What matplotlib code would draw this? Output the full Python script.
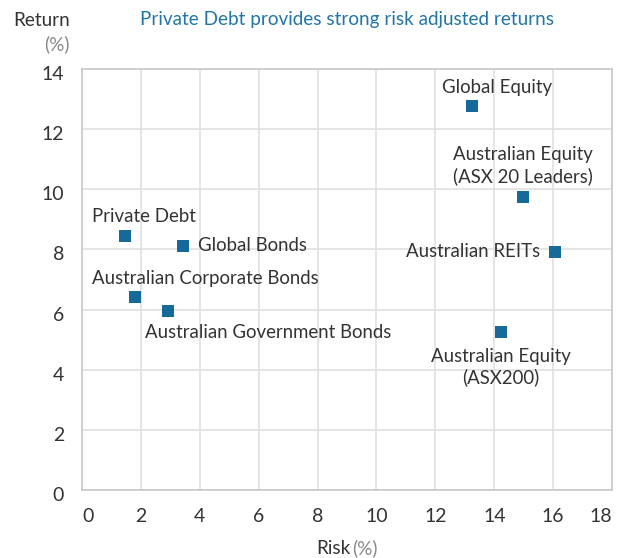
import matplotlib
matplotlib.use("Agg")
import matplotlib.pyplot as plt
import matplotlib.transforms as mtransforms

plt.rcParams['font.family'] = ['Lato', 'DejaVu Sans']

# data
names = ["Private Debt", "Global Bonds", "Australian Corporate Bonds",
         "Australian Government Bonds", "Global Equity",
         "Australian Equity\n(ASX 20 Leaders)", "Australian REITs",
         "Australian Equity\n(ASX200)"]
risk = [1.47, 3.44, 1.81, 2.92, 13.24, 14.98, 16.08, 14.23]
ret = [8.43, 8.12, 6.43, 5.96, 12.78, 9.73, 7.92, 5.26]

x_ticks = [0, 2, 4, 6, 8, 10, 12, 14, 16, 18]
y_ticks = [0, 2, 4, 6, 8, 10, 12, 14]

# label offsets (pixels) and alignment for each point
offsets = [(-33, 20, 'left'), (15, 0, 'left'), (-43, 18, 'left'),
           (-23, -22, 'left'), (25, 18, 'center'), (0, 32, 'center'),
           (-15, 0, 'right'), (0, -35, 'center')]

MARK = '#166a99'
TXT = '#333333'
FS = 13.4

fig = plt.figure(figsize=(6.2, 5.58), dpi=100)
ax = fig.add_axes([82 / 620, 1 - 490 / 558, 530 / 620, 421 / 558])

ax.scatter(risk, ret, marker='s', s=75, color=MARK, zorder=3, linewidths=0)

for n, x, y, (dx, dy, ha) in zip(names, risk, ret, offsets):
    ax.annotate(n, (x, y), xytext=(dx, dy), textcoords='offset pixels',
                ha=ha, va='center', fontsize=FS, color=TXT,
                linespacing=1.25)

ax.set_xlim(0, 18)
ax.set_ylim(0, 14)
ax.set_xticks(x_ticks)
ax.set_yticks(y_ticks)
ax.grid(True, color='#e0e0e0', linewidth=1.2)
ax.set_axisbelow(True)
for s in ax.spines.values():
    s.set_color('#c8c8c8')
    s.set_linewidth(1.2)
ax.tick_params(length=0, labelsize=14, colors=TXT)
ax.tick_params(axis='y', pad=13)
ax.tick_params(axis='x', pad=13)
xl = ax.get_xticklabels()
xl[0].set_ha('left')
xl[-1].set_ha('right')
shift = mtransforms.ScaledTranslation(0, -4 / 100, fig.dpi_scale_trans)
for t in ax.get_yticklabels():
    t.set_transform(t.get_transform() + shift)

fig.text(347 / 620, 1 - 20 / 558, "Private Debt provides strong risk adjusted returns",
         ha='center', va='center', fontsize=13.6, color='#2176a6')
fig.text(70 / 620, 1 - 20 / 558, "Return", ha='right', va='center',
         fontsize=13.6, color=TXT)
fig.text(70 / 620, 1 - 44 / 558, "(%)", ha='right', va='center',
         fontsize=13.6, color='#888888')
fig.text(350 / 620, 1 - 548 / 558, "Risk", ha='right', va='center',
         fontsize=13.6, color=TXT)
fig.text(352 / 620, 1 - 548 / 558, "(%)", ha='left', va='center',
         fontsize=13.6, color='#888888')

fig.savefig("out.png", dpi=100)
